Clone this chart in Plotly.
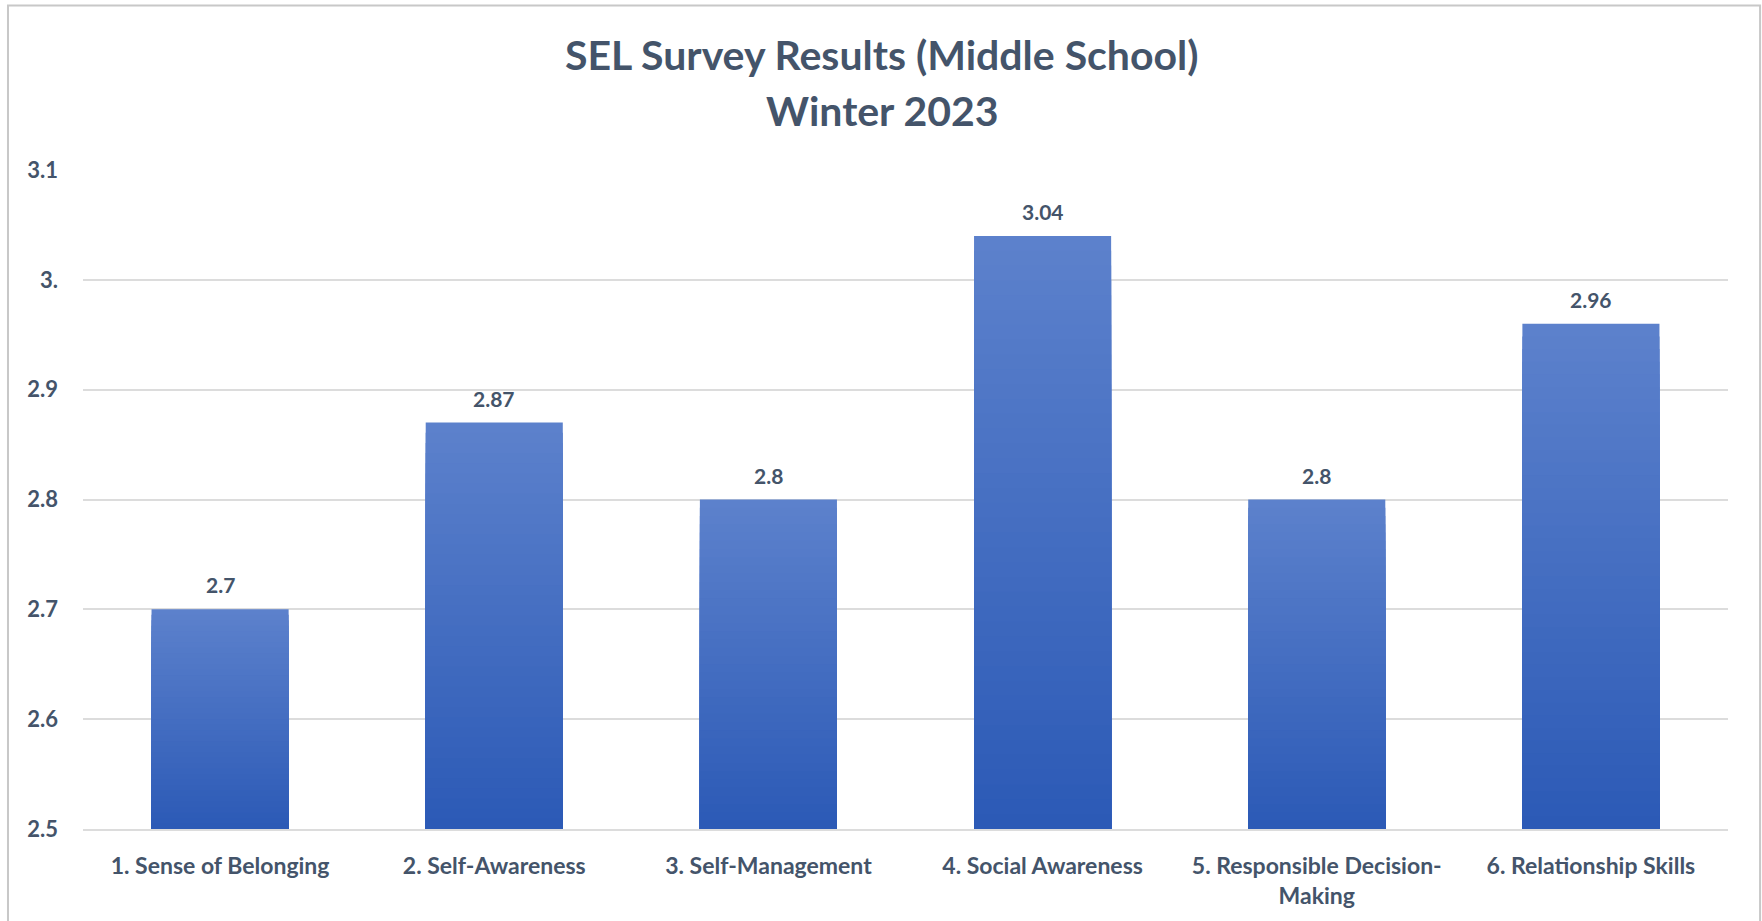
import plotly.graph_objects as go

# Survey data
categories = [
    "1. Sense of Belonging",
    "2. Self-Awareness",
    "3. Self-Management",
    "4. Social Awareness",
    "5. Responsible Decision-<br>Making",
    "6. Relationship Skills",
]
scores = [2.7, 2.87, 2.8, 3.04, 2.8, 2.96]
score_labels = ["2.7", "2.87", "2.8", "3.04", "2.8", "2.96"]
y_tickvals = [2.5, 2.6, 2.7, 2.8, 2.9, 3.0, 3.1]
y_ticktext = ["2.5", "2.6", "2.7", "2.8", "2.9", "3.", "3.1"]
title_lines = ["SEL Survey Results (Middle School)", "Winter 2023"]

AXIS_MIN = 2.5
TEXT_COLOR = "#44546A"
FONT = "Lato"

# vertical gradient: light at the top of each bar, darker toward the base
TOP_RGB = (92, 129, 204)
BOTTOM_RGB = (44, 90, 182)
STEPS = 40


def mix(a, b, t):
    return "rgb({},{},{})".format(*[round(a[i] + (b[i] - a[i]) * t) for i in range(3)])


fig = go.Figure()

for k in range(STEPS):
    frac = 1 - k / STEPS
    fig.add_trace(go.Bar(
        x=categories,
        y=[(v - AXIS_MIN) * frac for v in scores],
        base=AXIS_MIN,
        width=0.5,
        marker=dict(color=mix(TOP_RGB, BOTTOM_RGB, k / (STEPS - 1)), line=dict(width=0)),
        hoverinfo="skip" if k else "x+y",
        showlegend=False,
    ))

# value labels above each bar
for cat, v, lab in zip(categories, scores, score_labels):
    fig.add_annotation(
        x=cat, y=v, text=lab, showarrow=False,
        yanchor="bottom", yshift=10,
        font=dict(family=FONT, size=21, color=TEXT_COLOR, weight="bold"),
    )

# two-line chart title
for line, ypos in zip(title_lines, [1.1755, 1.0908]):
    fig.add_annotation(
        xref="paper", yref="paper", x=0.486, y=ypos,
        text=line, showarrow=False, xanchor="center", yanchor="middle",
        font=dict(family=FONT, size=41, color=TEXT_COLOR, weight="bold"),
    )

# outer frame
fig.add_shape(
    type="rect", xref="paper", yref="paper",
    x0=-0.0456, x1=1.0195, y0=-0.3, y1=1.2496,
    line=dict(color="#C8C8C8", width=2), layer="below",
)

fig.update_layout(
    width=1762, height=921,
    margin=dict(l=83, r=34, t=170, b=90),
    paper_bgcolor="white", plot_bgcolor="white",
    barmode="overlay",
    xaxis=dict(
        showgrid=False, showline=True, linecolor="#DCDCDC", linewidth=2,
        ticks="", ticklabelstandoff=15,
        tickfont=dict(family=FONT, size=23, color=TEXT_COLOR, weight="bold"),
    ),
    yaxis=dict(
        range=[AXIS_MIN, 3.1], tickvals=y_tickvals, ticktext=y_ticktext,
        showgrid=True, gridcolor="#DCDCDC", gridwidth=2,
        zeroline=False, ticks="", ticklabelstandoff=24,
        tickfont=dict(family=FONT, size=22, color=TEXT_COLOR, weight="bold"),
    ),
)

fig.write_html("out.html")
